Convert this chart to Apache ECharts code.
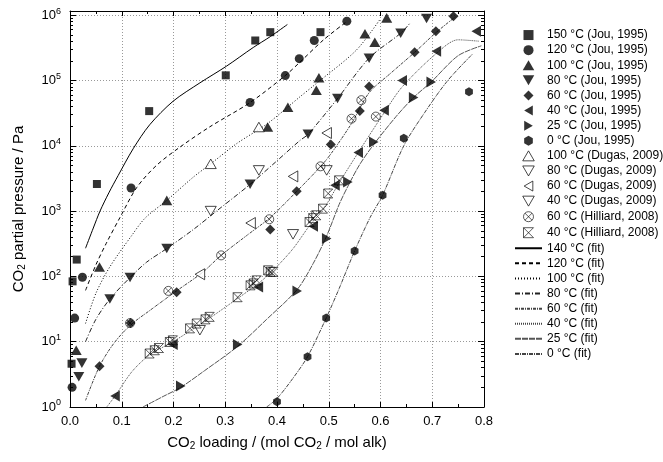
<!DOCTYPE html>
<html>
<head>
<meta charset="utf-8">
<script src="https://cdn.jsdelivr.net/npm/echarts@6/dist/echarts.min.js"></script>
<style>
  html, body { margin: 0; padding: 0; background: #fff; }
  #chart { width: 663px; height: 462px; }
</style>
</head>
<body>
<div id="chart"></div>
<script>
// measured points [loading, pressure Pa]
const jou150 = [[0.003, 4.6], [0.005, 84], [0.013, 181], [0.052, 2600], [0.153, 3.4e4], [0.301, 1.2e5], [0.358, 4.1e5], [0.387, 5.5e5], [0.484, 5.5e5]]
const jou120 = [[0.004, 2.0], [0.009, 23], [0.024, 97], [0.118, 2260], [0.348, 4.6e4], [0.416, 1.19e5], [0.443, 2.16e5], [0.472, 4.1e5], [0.535, 8.1e5]]
const jou100 = [[0.012, 7.4], [0.057, 139], [0.187, 1460], [0.382, 1.94e4], [0.421, 3.9e4], [0.476, 7.1e4], [0.481, 1.1e5], [0.570, 5.2e5], [0.589, 3.85e5], [0.612, 9.1e5]]
const jou80 = [[0.017, 2.9], [0.023, 4.7], [0.077, 45], [0.116, 96], [0.187, 267], [0.348, 2570], [0.460, 1.5e4], [0.517, 5.3e4], [0.578, 2.2e5], [0.639, 5.3e5], [0.689, 8.9e5]]
const jou60 = [[0.057, 4.2], [0.117, 19.3], [0.206, 57], [0.387, 521], [0.438, 2010], [0.504, 1.05e4], [0.560, 3.4e4], [0.578, 8.1e4], [0.666, 2.7e5], [0.707, 5.7e5], [0.741, 9.6e5]]
const jou40 = [[0.087, 1.47], [0.199, 9.1], [0.364, 69], [0.470, 585], [0.512, 2480], [0.557, 7900], [0.607, 3.5e4], [0.642, 1.0e5], [0.708, 2.8e5], [0.785, 5.7e5]]
const jou25 = [[0.214, 2.1], [0.324, 9.1], [0.439, 60], [0.496, 379], [0.537, 2790], [0.587, 1.14e4], [0.664, 5.5e4], [0.698, 9.5e4]]
const jou0 = [[0.400, 1.2], [0.459, 5.9], [0.495, 23], [0.550, 245], [0.604, 1750], [0.645, 1.3e4], [0.771, 6.7e4]]
const dugas100 = [[0.272, 5300], [0.365, 1.94e4]]
const dugas80 = [[0.272, 1000], [0.365, 4200]]
const dugas60 = [[0.251, 108], [0.349, 657], [0.431, 3400], [0.496, 1.57e4]]
const dugas40 = [[0.251, 15], [0.431, 441], [0.496, 4200]]
const hill60 = [[0.116, 19.3], [0.190, 60], [0.292, 210], [0.385, 750], [0.484, 4850], [0.544, 2.6e4], [0.563, 5.0e4], [0.591, 2.8e4]]
const hill40 = [[0.154, 6.6], [0.164, 7.4], [0.172, 8.0], [0.193, 9.9], [0.199, 10.5], [0.232, 16], [0.245, 19], [0.262, 22], [0.270, 24],
  [0.324, 48], [0.349, 73], [0.355, 78], [0.361, 87], [0.383, 124], [0.388, 118], [0.393, 117],
  [0.463, 680], [0.470, 780], [0.476, 863], [0.489, 1090], [0.499, 1860], [0.520, 2960]]

// model curves
const fit140 = [[0.030, 270], [0.045, 550], [0.058, 1000], [0.075, 1900], [0.093, 3500], [0.122, 9000], [0.154, 2.1e4], [0.199, 4.8e4], [0.251, 9.2e4], [0.302, 1.65e5], [0.354, 3.2e5], [0.387, 4.7e5], [0.420, 7.2e5]]
const fit120 = [[0.030, 61], [0.05, 150], [0.07, 320], [0.097, 810], [0.129, 2300], [0.167, 5000], [0.212, 9500], [0.270, 1.95e4], [0.348, 4.6e4], [0.416, 1.19e5], [0.444, 1.9e5], [0.49, 4.2e5], [0.534, 7.9e5]]
const fit100 = [[0.030, 19], [0.05, 55], [0.077, 140], [0.119, 420], [0.145, 780], [0.187, 1460], [0.238, 3300], [0.272, 5300], [0.322, 1.08e4], [0.382, 2.2e4], [0.444, 5.6e4], [0.476, 9e4], [0.553, 2.9e5], [0.598, 8.4e5]]
const fit80 = [[0.030, 10], [0.05, 22], [0.077, 45], [0.116, 96], [0.148, 165], [0.187, 267], [0.238, 520], [0.283, 1000], [0.348, 2570], [0.399, 5800], [0.444, 1.2e4], [0.46, 1.5e4], [0.517, 5.3e4], [0.578, 2.2e5], [0.639, 5.3e5], [0.656, 7.4e5]]
const fit60 = [[0.030, 1.26], [0.057, 4.2], [0.085, 9.5], [0.117, 18], [0.154, 30], [0.206, 60], [0.256, 115], [0.292, 210], [0.341, 420], [0.387, 800], [0.438, 2000], [0.484, 4800], [0.504, 7500], [0.544, 2.2e4], [0.578, 6.5e4], [0.62, 1.3e5], [0.666, 2.7e5], [0.707, 5.4e5], [0.745, 9.5e5]]
const fit40 = [[0.071, 1], [0.087, 1.47], [0.12, 3.5], [0.154, 6.3], [0.199, 10], [0.245, 17], [0.27, 23], [0.324, 46], [0.364, 78], [0.393, 125], [0.43, 260], [0.463, 600], [0.489, 1050], [0.52, 2700], [0.557, 7900], [0.607, 3.2e4], [0.642, 8e4], [0.708, 2.6e5], [0.75, 4.2e5], [0.79, 4.0e5]]
const fit25 = [[0.141, 1], [0.18, 1.45], [0.214, 2.0], [0.26, 3.6], [0.324, 8.5], [0.38, 22], [0.439, 63], [0.47, 158], [0.496, 417], [0.52, 1260], [0.537, 2400], [0.56, 5200], [0.587, 1.05e4], [0.63, 2.8e4], [0.664, 5.5e4], [0.698, 9.5e4], [0.75, 2.4e5], [0.795, 3.4e5]]
const fit0 = [[0.38, 1], [0.40, 1.35], [0.43, 2.7], [0.459, 5.9], [0.495, 23], [0.52, 65], [0.55, 245], [0.58, 800], [0.604, 1750], [0.645, 1.0e4], [0.685, 3.2e4], [0.73, 1.0e5], [0.779, 2.6e5]]

const yMax = 1.16e6
const yMinor = []
for (let e = 0; e < 6; e++) {
  for (let k = 2; k <= 9; k++) yMinor.push(k * Math.pow(10, e))
}

const font = "'Liberation Sans', Arial, sans-serif"

// marker shapes, drawn as paths so the legend keeps their aspect
const square = 'path://M0,0L10,0L10,10L0,10Z'
const circle = 'path://M0,5A5,5,0,1,1,10,5A5,5,0,1,1,0,5Z'
const triUp = 'path://M5,0L10,8.66L0,8.66Z'
const triDown = 'path://M0,0L10,0L5,8.66Z'
const triLeft = 'path://M0,5L8.66,0L8.66,10Z'
const triRight = 'path://M0,0L8.66,5L0,10Z'
const diamond = 'path://M5,0L10,5L5,10L0,5Z'
const hexagon = 'path://M5,0L9.33,2.5L9.33,7.5L5,10L0.67,7.5L0.67,2.5Z'
const crossCircle = 'path://M0,5A5,5,0,1,1,10,5A5,5,0,1,1,0,5ZM1.46,1.46L8.54,8.54M8.54,1.46L1.46,8.54'
const crossBox = 'path://M0,0L10,10M10,0L0,10M0,0L10,0M0,10L10,10M0,0L0,10'

const filled = { color: '#000' }
const open = { color: '#fff', borderColor: '#000', borderWidth: 0.9 }
const stroked = { color: 'none', borderColor: '#000', borderWidth: 0.8 }

function pts (name, data, symbol, size, style) {
  return {
    name: name,
    type: 'scatter',
    data: data,
    symbol: symbol,
    symbolSize: size,
    symbolKeepAspect: true,
    itemStyle: style,
    z: 3
  }
}

function fit (name, data, dash, color) {
  return {
    name: name,
    type: 'line',
    data: data,
    smooth: 0.3,
    symbol: 'none',
    showSymbol: false,
    color: color,
    lineStyle: { color: color, width: 1, type: dash },
    z: 2
  }
}

const gridLine = { show: true, lineStyle: { color: '#999', type: [1, 2], width: 1 } }

function yAxisBase (position, minor) {
  return {
    type: 'log',
    logBase: 10,
    min: 1,
    max: yMax,
    position: position,
    axisLine: { show: !minor, onZero: false, lineStyle: { color: '#000', width: 1 } },
    axisTick: minor
      ? { show: true, inside: true, length: 3, customValues: yMinor, lineStyle: { color: '#000' } }
      : { show: true, inside: true, length: 6, lineStyle: { color: '#000' } },
    axisLabel: { show: false },
    splitLine: { show: false }
  }
}

const chart = echarts.init(document.getElementById('chart'))

const mainY = yAxisBase('left', false)
mainY.axisLabel = {
  show: true,
  margin: 9,
  formatter: function (v) {
    const e = Math.log10(v)
    const r = Math.round(e)
    if (Math.abs(e - r) > 1e-6) return ''
    return '{b|10}{e|' + r + '}'
  },
  rich: {
    b: { fontSize: 13, color: '#000', fontFamily: font },
    e: { fontSize: 9, color: '#000', fontFamily: font, padding: [0, 0, 8, 0] }
  }
}
mainY.splitLine = gridLine
mainY.name = '{t|CO}{s|2}{t| partial pressure / Pa}'
mainY.nameLocation = 'middle'
mainY.nameGap = 43
mainY.nameTextStyle = {
  rich: {
    t: { fontSize: 15, color: '#000', fontFamily: font },
    s: { fontSize: 10, color: '#000', fontFamily: font, padding: [7, 0, 0, 0] }
  }
}

const series = [
  pts('150 °C (Jou, 1995)', jou150, square, 8, filled),
  pts('120 °C (Jou, 1995)', jou120, circle, 9, filled),
  pts('100 °C (Jou, 1995)', jou100, triUp, 11, filled),
  pts('80 °C (Jou, 1995)', jou80, triDown, 11, filled),
  pts('60 °C (Jou, 1995)', jou60, diamond, 10, filled),
  pts('40 °C (Jou, 1995)', jou40, triLeft, 11, filled),
  pts('25 °C (Jou, 1995)', jou25, triRight, 11, filled),
  pts('0 °C (Jou, 1995)', jou0, hexagon, 9, filled),
  pts('100 °C (Dugas, 2009)', dugas100, triUp, 11, open),
  pts('80 °C (Dugas, 2009)', dugas80, triDown, 11, open),
  pts('60 °C (Dugas, 2009)', dugas60, triLeft, 11, open),
  pts('40 °C (Dugas, 2009)', dugas40, triDown, 11, open),
  pts('60 °C (Hilliard, 2008)', hill60, crossCircle, 9, stroked),
  pts('40 °C (Hilliard, 2008)', hill40, crossBox, 9, stroked),
  fit('140 °C (fit)', fit140, 'solid', '#000'),
  fit('120 °C (fit)', fit120, [4, 3], '#000'),
  fit('100 °C (fit)', fit100, [1, 2], '#000'),
  fit('80 °C (fit)', fit80, [5, 2, 1, 2], '#222'),
  fit('60 °C (fit)', fit60, [3, 1, 1, 1], '#444'),
  fit('40 °C (fit)', fit40, [1, 1], '#444'),
  fit('25 °C (fit)', fit25, [6, 1], '#555'),
  fit('0 °C (fit)', fit0, [4, 1, 1, 1], '#444')
]

// line entries: hide the marker ECharts puts on line legend icons;
// marker entries: keep the thin outline instead of the legend's thick default
const legendData = series.map(s => s.type === 'line'
  ? { name: s.name, itemStyle: { color: 'rgba(0,0,0,0)', borderWidth: 0 } }
  : { name: s.name, itemStyle: { borderWidth: s.itemStyle.borderWidth || 0 } })

const option = {
  animation: false,
  backgroundColor: '#fff',
  textStyle: { fontFamily: font },
  grid: { left: 70, right: 179, top: 11, bottom: 55 },
  legend: {
    data: legendData,
    orient: 'vertical',
    left: 514,
    top: 28,
    itemWidth: 27,
    itemHeight: 10,
    itemGap: 1,
    padding: 0,
    selectedMode: false,
    symbolKeepAspect: true,
    textStyle: { fontSize: 12, color: '#000', lineHeight: 14.1 }
  },
  xAxis: [
    {
      type: 'value',
      min: 0,
      max: 0.8,
      interval: 0.1,
      position: 'bottom',
      axisLine: { show: true, onZero: false, lineStyle: { color: '#000', width: 1 } },
      axisTick: { show: true, inside: true, length: 5, lineStyle: { color: '#000' } },
      minorTick: { show: true, splitNumber: 2, length: 3, lineStyle: { color: '#000' } },
      axisLabel: { color: '#000', fontSize: 13, margin: 8, formatter: v => v.toFixed(1) },
      splitLine: gridLine,
      name: '{t|CO}{s|2}{t| loading / (mol CO}{s|2}{t| / mol alk)}',
      nameLocation: 'middle',
      nameGap: 27,
      nameTextStyle: {
        rich: {
          t: { fontSize: 15, color: '#000', fontFamily: font },
          s: { fontSize: 10, color: '#000', fontFamily: font, padding: [7, 0, 0, 0] }
        }
      }
    },
    {
      type: 'value',
      min: 0,
      max: 0.8,
      interval: 0.1,
      position: 'top',
      axisLine: { show: true, onZero: false, lineStyle: { color: '#000', width: 1 } },
      axisTick: { show: true, inside: true, length: 5, lineStyle: { color: '#000' } },
      minorTick: { show: true, splitNumber: 2, length: 3, lineStyle: { color: '#000' } },
      axisLabel: { show: false },
      splitLine: { show: false }
    }
  ],
  yAxis: [
    mainY,
    yAxisBase('left', true),
    yAxisBase('right', false),
    yAxisBase('right', true)
  ],
  series: series
}

chart.setOption(option)
</script>
</body>
</html>
